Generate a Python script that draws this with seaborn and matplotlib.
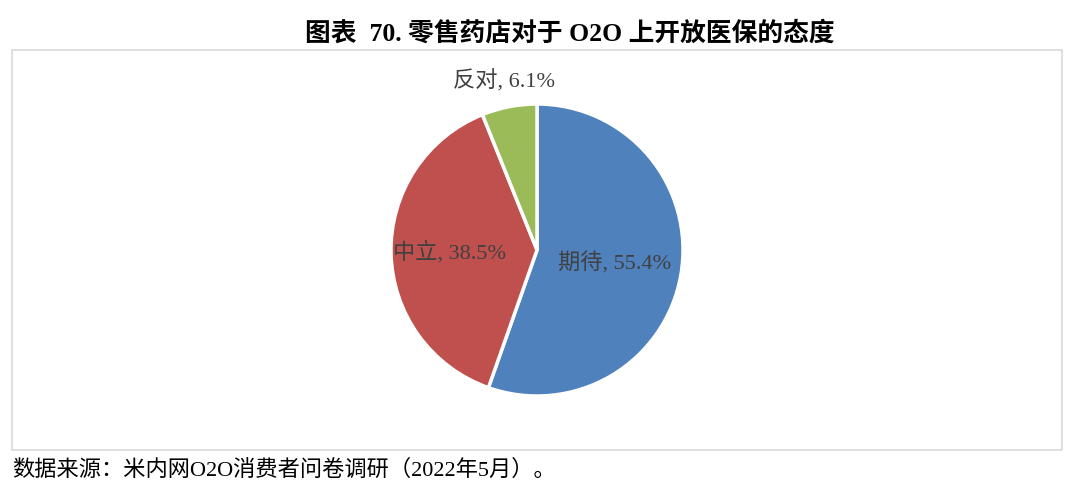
import numpy as np
import matplotlib.pyplot as plt
import seaborn as sns
from matplotlib.patches import Rectangle

sns.set_theme(style="white")
plt.rcParams['font.family'] = ['Liberation Serif', 'Noto Sans CJK SC']

# data
categories = ['期待', '中立', '反对']
values = [55.4, 38.5, 6.1]
colors = ['#4F81BD', '#C0504D', '#9BBB59']
label_dist = [0.54, 0.6, 1.18]

W, H = 1073, 497
fig = plt.figure(figsize=(W / 100, H / 100), dpi=100)
fig.patch.set_facecolor('white')

# outer frame
fig.patches.append(Rectangle((12 / W, 1 - 450 / H), 1050 / W, 400 / H,
                             transform=fig.transFigure, fill=False,
                             edgecolor='#D9D9D9', linewidth=1.2))

fig.text(570 / W, 1 - 33 / H, '图表  70. 零售药店对于 O2O 上开放医保的态度',
         ha='center', va='center', fontsize=18.5, fontweight='bold', color='black')
fig.text(12 / W, 1 - 470 / H, '数据来源：米内网O2O消费者问卷调研（2022年5月）。',
         ha='left', va='center', fontsize=16, color='black')

cx, cy, r = 537, 250, 146
ax = fig.add_axes([(cx - r) / W, 1 - (cy + r) / H, 2 * r / W, 2 * r / H])
wedges, _ = ax.pie(values, colors=colors, startangle=90, counterclock=False,
                   wedgeprops=dict(edgecolor='white', linewidth=2.5))
ax.set_xlim(-1, 1)
ax.set_ylim(-1, 1)
ax.set_aspect('equal')
ax.axis('off')

for w, cat, v, d in zip(wedges, categories, values, label_dist):
    ang = np.deg2rad((w.theta1 + w.theta2) / 2)
    ax.text(d * np.cos(ang), d * np.sin(ang), f'{cat}, {v}%',
            ha='center', va='center', fontsize=16, color='#404040', clip_on=False)

fig.savefig('out.png', dpi=100)
